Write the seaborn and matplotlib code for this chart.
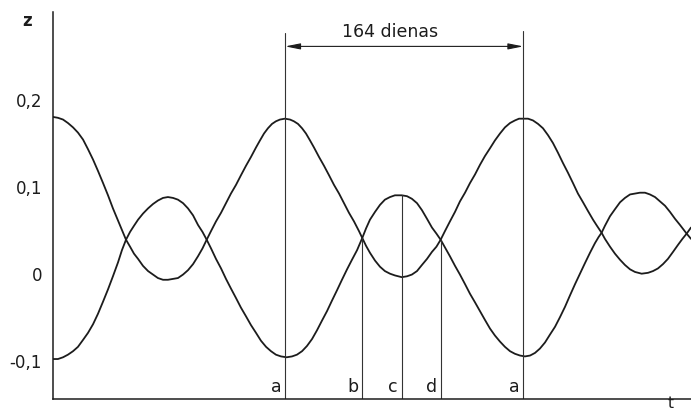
import matplotlib
matplotlib.use("Agg")
import matplotlib.pyplot as plt
import seaborn as sns
import pandas as pd

# Time in days and displacement z of the two oscillating quantities
t_a = [0, 3.4, 6.9, 10.3, 13.8, 17.2, 20.7, 24.1, 27.6, 31.0, 34.5, 37.9, 41.3, 44.8, 47.5, 50.3,
       53.1, 55.8, 58.6, 62.0, 65.5, 68.9, 72.3, 75.8, 79.2, 82.7, 86.1, 89.6, 93.0, 96.5, 99.9, 103.0, 105.9,
       108.9, 112.3, 115.8, 119.2, 122.6, 126.1, 129.5, 133.0, 136.4, 139.9, 142.6, 145.4, 148.1, 150.9, 153.6, 156.4, 159.8,
       163.3, 166.0, 168.8, 171.6, 174.3, 177.1, 179.8, 183.3, 186.7, 190.2, 193.6, 197.1, 200.5, 203.9, 207.4, 210.8, 213.1,
       215.7, 218.4, 221.9, 225.3, 228.7, 232.2, 235.6, 240.3, 243.9, 247.3, 250.8, 254.2, 257.7, 261.1, 264.2, 267.1,
       270.1, 273.5, 277.0, 280.4, 283.9, 287.3, 290.8, 294.2, 297.6, 301.1, 304.5, 308.0, 311.4, 314.9, 318.3, 321.1, 324.0,
       327.3, 330.7, 334.2, 337.6, 341.1, 344.5, 347.9, 351.4, 354.8, 358.3, 361.7, 365.2, 368.6, 372.1, 374.8, 378.0,
       380.3, 383.8, 387.2, 390.7, 394.1, 397.6, 401.0, 405.6, 410.0, 413.4, 416.8, 420.3, 423.7, 427.2, 430.6, 433.7, 436.6, 439.6]
z_a = [0.180, 0.179, 0.177, 0.173, 0.168, 0.162, 0.154, 0.143, 0.131, 0.118, 0.104, 0.090, 0.075, 0.061, 0.050, 0.039,
       0.031, 0.023, 0.017, 0.009, 0.003, -0.001, -0.005, -0.007, -0.007, -0.006, -0.005, -0.001, 0.004, 0.011, 0.020, 0.029, 0.039,
       0.049, 0.060, 0.070, 0.081, 0.092, 0.102, 0.113, 0.124, 0.134, 0.145, 0.153, 0.161, 0.167, 0.172, 0.175, 0.177, 0.178,
       0.177, 0.175, 0.172, 0.167, 0.161, 0.153, 0.145, 0.134, 0.124, 0.113, 0.102, 0.092, 0.081, 0.070, 0.060, 0.049, 0.041,
       0.032, 0.024, 0.015, 0.008, 0.003, 0.000, -0.002, -0.004, -0.003, -0.001, 0.003, 0.010, 0.017, 0.025, 0.031, 0.039,
       0.049, 0.060, 0.071, 0.083, 0.093, 0.104, 0.114, 0.125, 0.135, 0.144, 0.153, 0.161, 0.168, 0.173, 0.176, 0.178, 0.178,
       0.178, 0.176, 0.172, 0.167, 0.159, 0.150, 0.139, 0.127, 0.116, 0.104, 0.092, 0.082, 0.072, 0.062, 0.055, 0.047,
       0.040, 0.031, 0.023, 0.016, 0.010, 0.005, 0.002, 0.000, 0.001, 0.003, 0.006, 0.011, 0.017, 0.025, 0.033, 0.040, 0.046, 0.053]

t_b = [0, 3.4, 6.9, 10.3, 13.8, 17.2, 20.7, 24.1, 27.6, 31.0, 34.5, 37.9, 41.3, 44.8, 47.5, 50.3,
       53.1, 55.8, 58.6, 62.0, 65.5, 68.9, 72.3, 75.8, 79.2, 82.7, 86.1, 89.6, 93.0, 96.5, 99.9, 103.0, 105.9,
       108.9, 112.3, 115.8, 119.2, 122.6, 126.1, 129.5, 133.0, 136.4, 139.9, 143.3, 146.8, 150.2, 153.6, 157.1, 161.0,
       164.7, 168.1, 171.6, 175.0, 178.5, 181.9, 185.3, 188.8, 192.2, 195.7, 199.1, 202.6, 206.0, 209.5, 213.1,
       215.7, 218.4, 221.9, 225.3, 228.7, 232.2, 235.6, 240.3, 243.9, 247.3, 250.8, 254.2, 257.7, 261.1, 264.2, 267.1,
       270.1, 273.5, 277.0, 280.4, 283.9, 287.3, 290.8, 294.2, 297.6, 301.1, 304.5, 308.0, 311.4, 314.9, 318.3, 321.8, 325.2,
       328.7, 332.1, 335.5, 339.0, 342.4, 345.9, 349.3, 352.8, 356.2, 359.7, 363.1, 366.5, 370.0, 373.4, 375.9, 378.0,
       380.3, 383.8, 387.2, 390.7, 394.1, 397.6, 401.0, 404.4, 407.9, 411.3, 414.8, 418.2, 421.7, 425.1, 428.6, 432.0, 436.6, 439.6]
z_b = [-0.098, -0.098, -0.096, -0.093, -0.089, -0.084, -0.076, -0.068, -0.058, -0.046, -0.032, -0.018, -0.003, 0.013, 0.027, 0.039,
       0.048, 0.055, 0.062, 0.069, 0.075, 0.080, 0.084, 0.087, 0.088, 0.087, 0.085, 0.081, 0.075, 0.067, 0.056, 0.048, 0.039,
       0.029, 0.017, 0.006, -0.006, -0.017, -0.028, -0.039, -0.049, -0.059, -0.068, -0.077, -0.084, -0.089, -0.093, -0.095, -0.096,
       -0.095, -0.093, -0.089, -0.083, -0.075, -0.065, -0.054, -0.043, -0.031, -0.019, -0.007, 0.005, 0.016, 0.027, 0.041,
       0.052, 0.062, 0.071, 0.079, 0.085, 0.088, 0.090, 0.090, 0.089, 0.086, 0.081, 0.073, 0.063, 0.053, 0.046, 0.039,
       0.030, 0.020, 0.009, -0.001, -0.012, -0.023, -0.033, -0.043, -0.053, -0.063, -0.071, -0.078, -0.084, -0.089, -0.092, -0.094, -0.095,
       -0.094, -0.091, -0.086, -0.079, -0.070, -0.061, -0.050, -0.038, -0.025, -0.012, 0.000, 0.012, 0.024, 0.035, 0.042, 0.047,
       0.055, 0.066, 0.074, 0.082, 0.087, 0.091, 0.092, 0.093, 0.093, 0.091, 0.088, 0.083, 0.078, 0.071, 0.063, 0.056, 0.046, 0.040]

# Marked instants and the height each marker line reaches
mark_labels = ["a", "b", "c", "d", "a"]
mark_t = [160.0, 213.1, 240.5, 267.1, 324.0]
mark_top = [0.276, 0.041, 0.090, 0.039, 0.279]

period_label = "164 dienas"
ytick_vals = [0.2, 0.1, 0.0, -0.1]
ytick_text = ["0,2", "0,1", "0", "-0,1"]

sns.set_style("white")
plt.rcParams["font.family"] = ["DejaVu Sans"]

ink = "#1c1c1c"
fig = plt.figure(figsize=(6.91, 4.12), dpi=100)
ax = fig.add_axes([53 / 691, 13 / 412, 638 / 691, 387 / 412])
ymin, ymax = -0.1439, 0.3005
ax.set_xlim(0, 439.6)
ax.set_ylim(ymin, ymax)

df_a = pd.DataFrame({"t": t_a, "z": z_a})
df_b = pd.DataFrame({"t": t_b, "z": z_b})
for df in (df_a, df_b):
    sns.lineplot(data=df, x="t", y="z", ax=ax, color=ink, linewidth=1.3,
                 sort=False, estimator=None)

# Vertical marker lines with their letters
for lbl, t, top in zip(mark_labels, mark_t, mark_top):
    ax.plot([t, t], [ymin, top], color="#333333", linewidth=0.8)
    ax.annotate(lbl, xy=(t, ymin), xytext=(-4, 7), textcoords="offset pixels",
                ha="right", va="baseline", fontsize=12.5, color=ink)

# Period arrow between the two "a" instants
arrow_z = 0.261
ax.annotate("", xy=(mark_t[4], arrow_z), xytext=(mark_t[0], arrow_z),
            arrowprops=dict(arrowstyle="<|-|>,head_length=0.9,head_width=0.18",
                            color=ink, lw=0.8, shrinkA=0, shrinkB=0))
ax.text(232.0, 0.272, period_label, ha="center", va="baseline",
        fontsize=12.5, color=ink)

ax.set_yticks(ytick_vals)
ax.set_yticklabels(ytick_text)
ax.set_xticks([])
ax.tick_params(axis="y", direction="in", length=6, width=1.0, pad=8,
               labelsize=12, colors=ink)
ax.set_xlabel("")
ax.set_ylabel("")
sns.despine(ax=ax)
for side in ("left", "bottom"):
    ax.spines[side].set_color(ink)
    ax.spines[side].set_linewidth(1.1)

fig.text(27 / 691, 1 - 21 / 412, "z", ha="center", va="center",
         fontsize=12, fontweight="bold", color=ink)
fig.text(671 / 691, 1 - 403 / 412, "t", ha="center", va="center",
         fontsize=11, color=ink)

fig.savefig("out.png", dpi=100)
